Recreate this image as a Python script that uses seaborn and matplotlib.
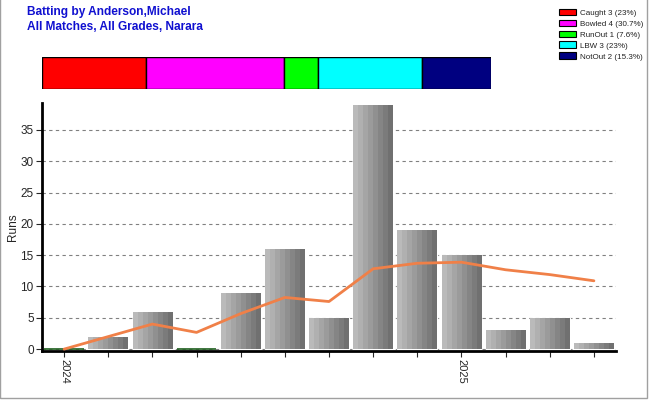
import numpy as np
import seaborn as sns
import pandas as pd
from matplotlib import pyplot as plt
from matplotlib.patches import Patch, Rectangle

# Daten aus dem Bild
innings = list(range(13))
runs = [0, 2, 6, 0, 9, 16, 5, 39, 19, 15, 3, 5, 1]
average = [0, 2, 4, 2.67, 5.67, 8.25, 7.6, 12.83, 13.71, 13.88, 12.67, 11.9, 10.91]
tick_labels = ['2024', '', '', '', '', '', '', '', '', '2025', '', '', '']

dismissals = ['Caught', 'Bowled', 'RunOut', 'LBW', 'NotOut']
dismissal_counts = [3, 4, 1, 3, 2]
dismissal_pct = ['23%', '30.7%', '7.6%', '23%', '15.3%']
dismissal_colors = ['#ff0000', '#ff00ff', '#00ff00', '#00ffff', '#000080']

sns.set_style('white')
plt.rcParams['font.family'] = ['Liberation Sans', 'DejaVu Sans']

fig = plt.figure(figsize=(6.5, 4), dpi=100)
fig.patch.set_facecolor('white')

# Hauptdiagramm
ax = fig.add_axes([42 / 650, 49 / 400, 574 / 650, 248 / 400])
df = pd.DataFrame({'innings': innings, 'runs': runs, 'average': average})
sns.barplot(data=df, x='innings', y='runs', color='#999999', width=0.9,
            saturation=1, ax=ax, zorder=2)

# Streifen-Gradient in jedem Balken
stripes = np.linspace(0.73, 0.44, 8).reshape(1, -1)
for patch, v in zip(ax.patches, runs):
    x0, w = patch.get_x(), patch.get_width()
    if v == 0:
        patch.set_edgecolor('#1f5f1f')
        patch.set_linewidth(1.2)
        continue
    patch.set_facecolor('none')
    im = ax.imshow(stripes, cmap='gray', vmin=0, vmax=1, aspect='auto',
                   extent=(x0, x0 + w, 0, v), interpolation='nearest', zorder=2)
    im.set_clip_path(patch)

sns.lineplot(data=df, x='innings', y='average', color='#f08048', linewidth=2,
             ax=ax, zorder=3)

ax.set_xlim(-0.5, 12.5)
ax.set_ylim(-0.3, 39.3)
ax.set_yticks(range(0, 40, 5))
ax.set_xticks(innings)
ax.set_xticklabels(tick_labels, rotation=-90, fontsize=8)
ax.tick_params(axis='y', labelsize=8.5, length=4, width=0.8, direction='out', left=True, pad=2)
ax.tick_params(axis='x', length=4, width=0.8, direction='out', bottom=True, pad=2)
ax.yaxis.grid(True, linestyle=(0, (3, 3)), color='#808080', linewidth=0.8, zorder=0)
ax.set_axisbelow(True)
ax.set_xlabel('')
ax.set_ylabel('Runs', fontsize=8.5)
ax.yaxis.set_label_coords(-23 / 574, 0.5)
for s in ['top', 'right']:
    ax.spines[s].set_visible(False)
for s in ['left', 'bottom']:
    ax.spines[s].set_linewidth(2)
    ax.spines[s].set_color('black')

# Balken der Aus-Arten
ax2 = fig.add_axes([42 / 650, 311 / 400, 449 / 650, 32 / 400])
left = 0
for cnt, col in zip(dismissal_counts, dismissal_colors):
    ax2.barh(0, cnt, left=left, color=col, edgecolor='black', linewidth=1, height=1)
    left += cnt
ax2.set_xlim(0, sum(dismissal_counts))
ax2.set_ylim(-0.5, 0.5)
ax2.axis('off')

# Legende
handles = [Patch(facecolor=c, edgecolor='black', linewidth=0.8,
                 label=f'{n} {k} ({p})')
           for n, k, p, c in zip(dismissals, dismissal_counts, dismissal_pct, dismissal_colors)]
fig.legend(handles=handles, loc='upper left', bbox_to_anchor=(553 / 650, 1 - 3 / 400),
           fontsize=5.8, frameon=False, handlelength=2.2, handleheight=0.9,
           handletextpad=0.4, labelspacing=0.35, borderpad=0.2, labelcolor='#222222')

# Titel
fig.text(27 / 650, 1 - 12 / 400, 'Batting by Anderson,Michael', color='#1010d0',
         fontsize=8.6, fontweight='bold', va='center')
fig.text(27 / 650, 1 - 27 / 400, 'All Matches, All Grades, Narara', color='#1010d0',
         fontsize=8.6, fontweight='bold', va='center')

# Rahmen rechts/unten
fig.add_artist(Rectangle((0, 2 / 400), 647 / 650, 1, transform=fig.transFigure,
                         fill=False, edgecolor='#a0a0a0', linewidth=1))

fig.savefig('out.png', dpi=100)
